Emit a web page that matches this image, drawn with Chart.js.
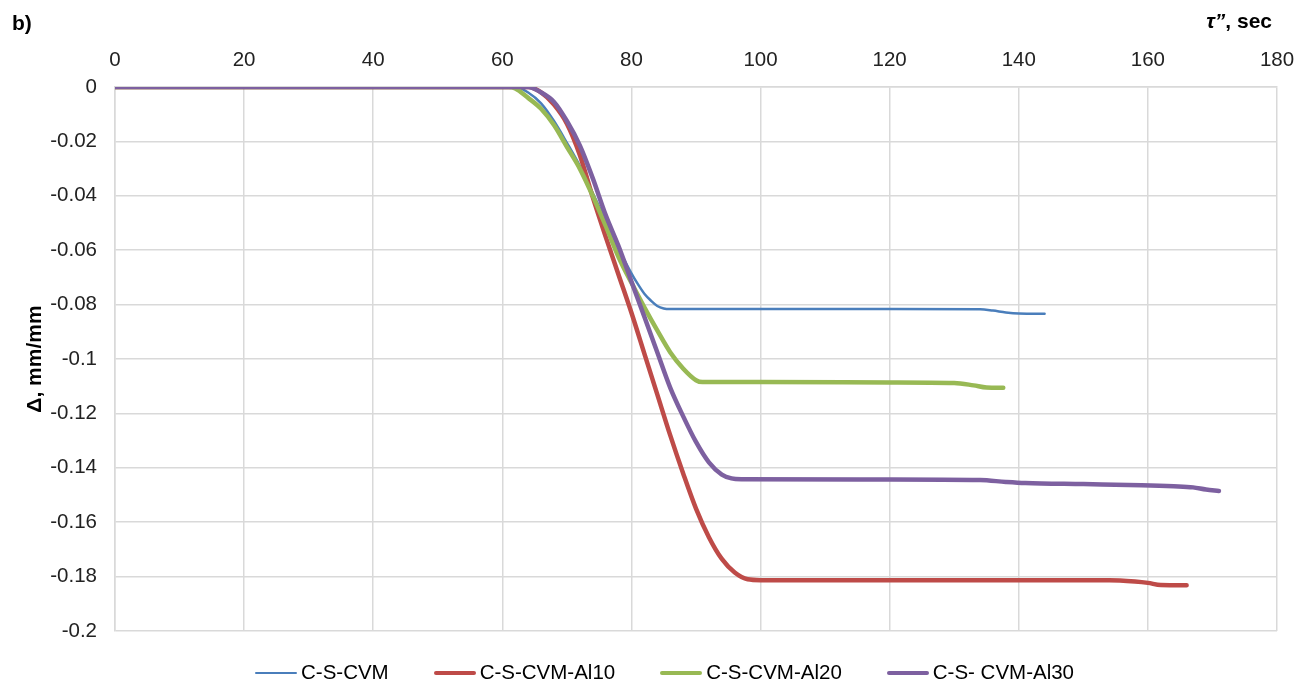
<!DOCTYPE html>
<html>
<head>
<meta charset="utf-8">
<script src="https://cdn.jsdelivr.net/npm/chart.js@4.4.1/dist/chart.umd.min.js"></script>
<style>
    body { margin: 0; background: #fff; font-family: "Liberation Sans", Arial, sans-serif; color: #000; }
    #wrap { position: relative; width: 1311px; height: 686px; }
    #chart { position: absolute; left: 0; top: 0; }
    .lbl { position: absolute; font-weight: bold; font-size: 21px; line-height: 1; white-space: nowrap; }
    #panel { left: 12px; top: 12px; }
    #xTitle { right: 39px; top: 10px; }
    #legend { position: absolute; left: 255px; top: 662px; display: flex; gap: 45px; font-size: 20.5px; line-height: 1; }
    .item { display: flex; align-items: center; white-space: nowrap; }
    .swatch { display: inline-block; width: 42px; height: 4px; border-radius: 2px; margin-right: 4px; margin-top: 1px; }
</style>
</head>
<body>
<div id="wrap">
    <canvas id="chart" width="1311" height="686"></canvas>
    <div class="lbl" id="panel">b)</div>
    <div class="lbl" id="xTitle"><i>τ”</i>, sec</div>
    <div id="legend"></div>
</div>
<script>
// ===== Data =====
const seriesNames = ['C-S-CVM', 'C-S-CVM-Al10', 'C-S-CVM-Al20', 'C-S- CVM-Al30'];

const cvmTime  = [0, 62, 64, 66, 68, 70, 72, 74, 76, 78, 79, 80, 81, 82, 83, 84, 85, 86, 100, 120, 134, 136, 138, 140, 144];
const cvmDelta = [0, 0, -0.002, -0.006, -0.0125, -0.0205, -0.029, -0.039, -0.049, -0.0595, -0.064, -0.0685, -0.0725, -0.076, -0.0785, -0.0805, -0.0814, -0.0816, -0.0816, -0.0816, -0.0817, -0.0822, -0.0829, -0.0833, -0.0834];

const al10Time  = [0, 64, 66, 68, 70, 72, 74, 76, 78, 80, 82, 84, 86, 88, 90, 92, 94, 96, 98, 100, 120, 154, 158, 160, 162, 166];
const al10Delta = [0, 0, -0.002, -0.0065, -0.0135, -0.025, -0.0405, -0.055, -0.069, -0.083, -0.098, -0.113, -0.128, -0.142, -0.155, -0.1655, -0.1735, -0.1785, -0.181, -0.1813, -0.1813, -0.1813, -0.1818, -0.1823, -0.1831, -0.1832];

const al20Time  = [0, 61, 62, 64, 66, 68, 70, 72, 74, 76, 78, 80, 82, 84, 86, 88, 90, 91, 100, 120, 130, 133, 135, 137.6];
const al20Delta = [0, 0, -0.0005, -0.004, -0.008, -0.014, -0.022, -0.030, -0.040, -0.051, -0.0625, -0.072, -0.081, -0.0895, -0.0975, -0.1035, -0.1078, -0.1085, -0.1085, -0.1086, -0.1088, -0.1097, -0.1105, -0.1106];

const al30Time  = [0, 64, 66, 68, 70, 72, 74, 76, 78, 80, 82, 84, 86, 88, 90, 92, 94, 95.5, 97, 120, 134, 138, 141, 150, 159, 164, 167, 169, 171];
const al30Delta = [0, 0, -0.002, -0.0055, -0.0125, -0.0215, -0.0335, -0.047, -0.0585, -0.0715, -0.0845, -0.0975, -0.1105, -0.121, -0.1305, -0.138, -0.1425, -0.1439, -0.1442, -0.1443, -0.1445, -0.1452, -0.1456, -0.146, -0.1464, -0.1468, -0.1472, -0.148, -0.1485];

const xTicks = [0, 20, 40, 60, 80, 100, 120, 140, 160, 180];
const yTicks = [0, -0.02, -0.04, -0.06, -0.08, -0.1, -0.12, -0.14, -0.16, -0.18, -0.2];

// ===== Styling =====
const colors = ['#4a7ebb', '#be4b48', '#98b954', '#7d60a0'];
const widths = [2.5, 4.5, 4.5, 4.5];
const tickFont = { family: '"Liberation Sans", Arial, sans-serif', size: 20.5 };
const gridColor = '#d9d9d9';

function toPoints(xs, ys) {
    return xs.map((x, i) => ({ x: x, y: ys[i] }));
}

const seriesData = [
    toPoints(cvmTime, cvmDelta),
    toPoints(al10Time, al10Delta),
    toPoints(al20Time, al20Delta),
    toPoints(al30Time, al30Delta)
];

const datasets = seriesData.map((pts, i) => ({
    label: seriesNames[i],
    data: pts,
    borderColor: colors[i],
    backgroundColor: colors[i],
    borderWidth: widths[i],
    pointRadius: 0,
    cubicInterpolationMode: 'monotone',
    borderCapStyle: 'round',
    borderJoinStyle: 'round',
    fill: false,
    order: 4 - i   // later series drawn on top, like the original
}));

new Chart(document.getElementById('chart'), {
    type: 'line',
    data: { datasets: datasets },
    options: {
        responsive: false,
        animation: false,
        layout: { padding: { left: 0, right: 34, top: 0, bottom: 55 } },
        plugins: {
            legend: { display: false },
            tooltip: { enabled: false }
        },
        scales: {
            x: {
                type: 'linear',
                position: 'top',
                min: 0,
                max: 180,
                afterBuildTicks: s => { s.ticks = xTicks.map(v => ({ value: v })); },
                afterFit: s => { s.height = 87; },
                ticks: { font: tickFont, color: '#222', padding: 14, maxRotation: 0 },
                grid: { color: gridColor, lineWidth: 1.5, drawTicks: false },
                border: { color: gridColor, width: 1.5 }
            },
            y: {
                min: -0.2,
                max: 0,
                afterBuildTicks: s => { s.ticks = yTicks.map(v => ({ value: v })); },
                afterFit: s => { s.width = 115; },
                ticks: {
                    font: tickFont,
                    color: '#222',
                    padding: 18,
                    callback: v => String(parseFloat(v.toFixed(2)))
                },
                grid: { color: gridColor, lineWidth: 1.5, drawTicks: false },
                border: { color: gridColor, width: 1.5 },
                title: {
                    display: true,
                    text: 'Δ, mm/mm',
                    font: { family: '"Liberation Sans", Arial, sans-serif', size: 21, weight: 'bold' },
                    color: '#000',
                    padding: { top: 23, bottom: 0 }
                }
            }
        }
    }
});

// Legend as real text below the plot
const legend = document.getElementById('legend');
seriesNames.forEach((name, i) => {
    const item = document.createElement('div');
    item.className = 'item';
    const sw = document.createElement('span');
    sw.className = 'swatch';
    sw.style.background = colors[i];
    sw.style.height = widths[i] + 'px';
    item.appendChild(sw);
    item.appendChild(document.createTextNode(name));
    legend.appendChild(item);
});
</script>
</body>
</html>
